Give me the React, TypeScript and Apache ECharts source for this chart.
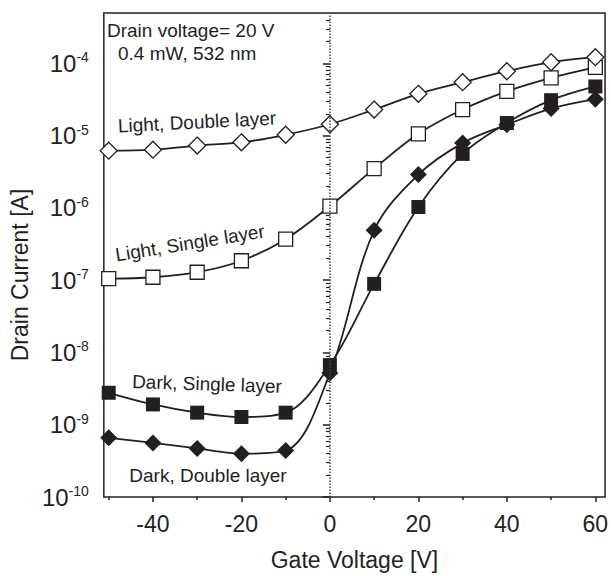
import React, { useEffect, useRef } from "react";
import * as echarts from "echarts";

const gateVoltage = [-50, -40, -30, -20, -10, 0, 10, 20, 30, 40, 50, 60];
const lightDouble = [6.2e-6, 6.4e-6, 7.3e-6, 8.1e-6, 1.03e-5, 1.44e-5, 2.3e-5, 3.8e-5, 5.5e-5, 7.8e-5, 1.04e-4, 1.22e-4];
const lightSingle = [1.05e-7, 1.1e-7, 1.29e-7, 1.86e-7, 3.7e-7, 1.06e-6, 3.5e-6, 1.06e-5, 2.3e-5, 4.1e-5, 6.3e-5, 8.8e-5];
const darkSingle = [2.77e-9, 1.91e-9, 1.47e-9, 1.28e-9, 1.47e-9, 6.7e-9, 8.9e-8, 1.03e-6, 5.6e-6, 1.5e-5, 3.1e-5, 4.8e-5];
const darkDouble = [6.6e-10, 5.6e-10, 4.7e-10, 3.98e-10, 4.4e-10, 5.2e-9, 4.9e-7, 2.9e-6, 7.9e-6, 1.42e-5, 2.37e-5, 3.2e-5];

const xTickValues = [-40, -20, 0, 20, 40, 60];
const xMinorTickValues = [-50, -30, -10, 10, 30, 50];
const yDecades = [-10, -9, -8, -7, -6, -5, -4];

const INK = "#231f20";
const FONT = "'Liberation Sans', Arial, Helvetica, sans-serif";

export default function App() {
  const ref = useRef<HTMLDivElement>(null);
  useEffect(() => {
    const chart = echarts.init(ref.current!, null, { renderer: "svg" });
    const X_MIN = -51.1;
    const X_MAX = 62.2;
    const Y_MIN = -10;
    const Y_MAX = -3.302;
    const yMinor: number[] = [];
    for (const n of yDecades) {
      for (let k = 2; k <= 9; k++) {
        const v = n + Math.log10(k);
        if (v < Y_MAX - 0.01) yMinor.push(v);
      }
    }
    const pts = (arr: number[]) => gateVoltage.map((x, i) => [x, Math.log10(arr[i])]);
    const lineStyle = { color: INK, width: 1.8 };
    const openItem = { color: "#ffffff", borderColor: INK, borderWidth: 1.3 };
    const fillItem = { color: INK, borderColor: INK, borderWidth: 0 };
    const annot = (text: string, x: number, y: number, rot: number, align = "center") => ({
      type: "text",
      x,
      y,
      rotation: rot,
      silent: true,
      style: { text, fill: INK, fontSize: 19, fontFamily: FONT, align, verticalAlign: "middle" },
    });

    chart.setOption({
      animation: false,
      backgroundColor: "#ffffff",
      textStyle: { fontFamily: FONT },
      grid: {
        left: 97,
        right: 4,
        top: 13,
        bottom: 72,
        show: true,
        borderColor: INK,
        borderWidth: 1.5,
        backgroundColor: "transparent",
      },
      xAxis: [
        {
          type: "value",
          min: X_MIN,
          max: X_MAX,
          position: "bottom",
          splitLine: { show: false },
          axisLine: { show: false },
          axisTick: { show: true, customValues: xTickValues, length: 5, lineStyle: { color: INK, width: 1.5 } },
          axisLabel: { customValues: xTickValues, fontSize: 23, color: INK, margin: 15, fontFamily: FONT },
          name: "Gate Voltage [V]",
          nameLocation: "middle",
          nameGap: 51,
          nameTextStyle: { fontSize: 23, color: INK, fontFamily: FONT },
        },
        {
          type: "value",
          min: X_MIN,
          max: X_MAX,
          position: "bottom",
          splitLine: { show: false },
          axisLine: { show: false },
          axisLabel: { show: false },
          axisTick: { show: true, customValues: xMinorTickValues, length: 3, lineStyle: { color: INK, width: 1.5 } },
        },
      ],
      yAxis: [
        {
          type: "value",
          min: Y_MIN,
          max: Y_MAX,
          position: "left",
          splitLine: { show: false },
          axisLine: { show: false },
          axisTick: { show: true, customValues: yDecades, length: 7, lineStyle: { color: INK, width: 1.5 } },
          axisLabel: {
            customValues: yDecades,
            margin: 15,
            formatter: (v: number) => `{b|10}{s|${v}}`,
            rich: {
              b: { fontSize: 24, color: INK, fontFamily: FONT, lineHeight: 26 },
              s: { fontSize: 14, color: INK, fontFamily: FONT, verticalAlign: "top", lineHeight: 16 },
            },
          },
          name: "Drain Current [A]",
          nameLocation: "middle",
          nameGap: 63,
          nameTextStyle: { fontSize: 23, color: INK, fontFamily: FONT, padding: [0, 40, 0, 0] },
        },
        {
          type: "value",
          min: Y_MIN,
          max: Y_MAX,
          position: "left",
          splitLine: { show: false },
          axisLine: { show: false },
          axisLabel: { show: false },
          axisTick: { show: true, customValues: yMinor, length: 4, lineStyle: { color: INK, width: 1.2 } },
        },
      ],
      series: [
        {
          name: "Dark, Double layer",
          type: "line",
          data: pts(darkDouble),
          smooth: 0.35,
          symbol: "diamond",
          symbolSize: 17,
          lineStyle,
          itemStyle: fillItem,
          markLine: {
            silent: true,
            symbol: ["none", "none"],
            label: { show: false },
            lineStyle: { type: "dotted", color: "#444", width: 1.5 },
            data: [{ xAxis: 0 }],
          },
        },
        {
          name: "Dark, Single layer",
          type: "line",
          data: pts(darkSingle),
          smooth: 0.35,
          symbol: "rect",
          symbolSize: 14,
          lineStyle,
          itemStyle: fillItem,
        },
        {
          name: "Light, Single layer",
          type: "line",
          data: pts(lightSingle),
          smooth: 0.35,
          symbol: "rect",
          symbolSize: 14,
          lineStyle,
          itemStyle: openItem,
        },
        {
          name: "Light, Double layer",
          type: "line",
          data: pts(lightDouble),
          smooth: 0.35,
          symbol: "diamond",
          symbolSize: 17,
          lineStyle,
          itemStyle: openItem,
        },
      ],
      graphic: [
        annot("Drain voltage= 20 V", 107, 30, 0, "left"),
        annot("0.4 mW, 532 nm", 118, 53, 0, "left"),
        annot("Light, Double layer", 197, 122, 0.05),
        annot("Light, Single layer", 190, 243, 0.16),
        annot("Dark, Single layer", 207, 384, -0.033),
        annot("Dark, Double layer", 208, 475, 0),
      ],
    });
    return () => chart.dispose();
  }, []);
  return <div ref={ref} style={{ position: "fixed", left: 0, top: 0, width: 611, height: 576 }} />;
}
